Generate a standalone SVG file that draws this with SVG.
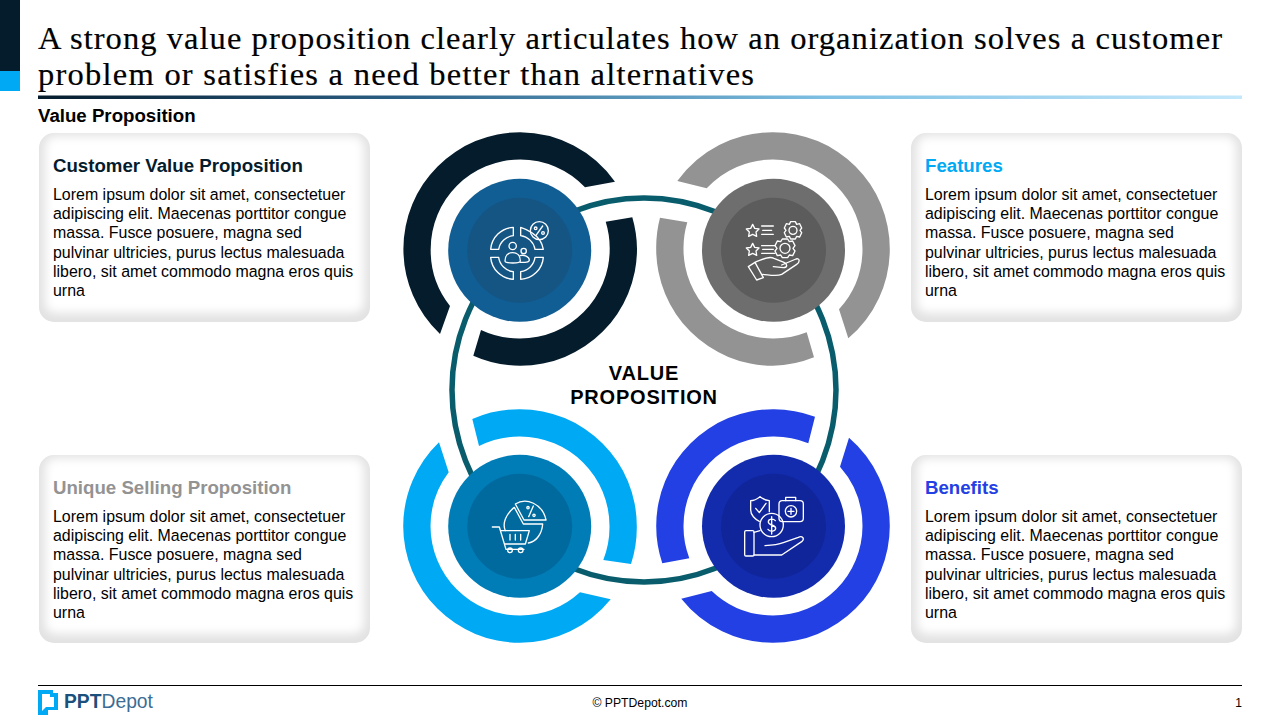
<svg xmlns="http://www.w3.org/2000/svg" width="1280" height="720" viewBox="0 0 1280 720">
<style>
text{font-family:"Liberation Sans",Arial,sans-serif;fill:#000}
.title{font-family:"Liberation Serif","Times New Roman",serif;font-size:32.5px;stroke:#000;stroke-width:.2px}
.sub{font-size:18.67px;font-weight:700}
.h{font-size:18.67px;font-weight:700}
.b{font-size:15.95px}
.c{font-size:20px;font-weight:700;letter-spacing:.8px;text-anchor:middle}
.card{fill:#e2e2e2}
.glow{fill:#fff;filter:url(#soft)}
.ic{fill:none;stroke:#fff;stroke-width:4;stroke-linejoin:round;stroke-linecap:round}
</style>
<defs>
<linearGradient id="rule" x1="0" x2="1" y1="0" y2="0"><stop offset="0" stop-color="#051C2C"/><stop offset=".3" stop-color="#2B5F85"/><stop offset=".65" stop-color="#7DBFE3"/><stop offset="1" stop-color="#C4E8FB"/></linearGradient>
<filter id="soft" x="-10%" y="-15%" width="120%" height="130%"><feGaussianBlur stdDeviation="5"/></filter>
<clipPath id="c1"><rect x="39" y="133" width="331" height="189" rx="15"/></clipPath>
<clipPath id="c2"><rect x="911" y="133" width="331" height="189" rx="15"/></clipPath>
<clipPath id="c3"><rect x="39" y="455" width="331" height="188" rx="15"/></clipPath>
<clipPath id="c4"><rect x="911" y="455" width="331" height="188" rx="15"/></clipPath>
</defs>
<rect width="1280" height="720" fill="#fff"/>
<g id="header">
<rect x="0" y="0" width="20" height="71" fill="#051C2C"/>
<rect x="0" y="71" width="20" height="20" fill="#00A9F4"/>
<text class="title" x="38" y="48.5" textLength="1184" lengthAdjust="spacing">A strong value proposition clearly articulates how an organization solves a customer</text>
<text class="title" x="38" y="84.5" textLength="716" lengthAdjust="spacing">problem or satisfies a need better than alternatives</text>
<rect x="38" y="95.5" width="1204" height="3.5" fill="url(#rule)"/>
<text class="sub" x="38" y="122">Value Proposition</text>
</g>
<g id="connectors">
<circle cx="644" cy="390" r="192" fill="none" stroke="#085C6B" stroke-width="5.5"/>
</g>
<g id="card-customer">
<rect class="card" x="39" y="133" width="331" height="189" rx="15"/>
<g clip-path="url(#c1)"><rect class="glow" x="45" y="136" width="319" height="177" rx="10"/></g>
<text class="h" x="53" y="172" style="fill:#051C2C">Customer Value Proposition</text>
<text class="b"><tspan x="53" y="200">Lorem ipsum dolor sit amet, consectetuer</tspan><tspan x="53" y="219.2">adipiscing elit. Maecenas porttitor congue</tspan><tspan x="53" y="238.4">massa. Fusce posuere, magna sed</tspan><tspan x="53" y="257.6">pulvinar ultricies, purus lectus malesuada</tspan><tspan x="53" y="276.8">libero, sit amet commodo magna eros quis</tspan><tspan x="53" y="296">urna</tspan></text>
</g>
<g id="card-features">
<rect class="card" x="911" y="133" width="331" height="189" rx="15"/>
<g clip-path="url(#c2)"><rect class="glow" x="917" y="136" width="319" height="177" rx="10"/></g>
<text class="h" x="925" y="172" style="fill:#00A9F4">Features</text>
<text class="b"><tspan x="925" y="200">Lorem ipsum dolor sit amet, consectetuer</tspan><tspan x="925" y="219.2">adipiscing elit. Maecenas porttitor congue</tspan><tspan x="925" y="238.4">massa. Fusce posuere, magna sed</tspan><tspan x="925" y="257.6">pulvinar ultricies, purus lectus malesuada</tspan><tspan x="925" y="276.8">libero, sit amet commodo magna eros quis</tspan><tspan x="925" y="296">urna</tspan></text>
</g>
<g id="card-usp">
<rect class="card" x="39" y="455" width="331" height="188" rx="15"/>
<g clip-path="url(#c3)"><rect class="glow" x="45" y="458" width="319" height="176" rx="10"/></g>
<text class="h" x="53" y="494" style="fill:#939393">Unique Selling Proposition</text>
<text class="b"><tspan x="53" y="522">Lorem ipsum dolor sit amet, consectetuer</tspan><tspan x="53" y="541.2">adipiscing elit. Maecenas porttitor congue</tspan><tspan x="53" y="560.4">massa. Fusce posuere, magna sed</tspan><tspan x="53" y="579.6">pulvinar ultricies, purus lectus malesuada</tspan><tspan x="53" y="598.8">libero, sit amet commodo magna eros quis</tspan><tspan x="53" y="618">urna</tspan></text>
</g>
<g id="card-benefits">
<rect class="card" x="911" y="455" width="331" height="188" rx="15"/>
<g clip-path="url(#c4)"><rect class="glow" x="917" y="458" width="319" height="176" rx="10"/></g>
<text class="h" x="925" y="494" style="fill:#2240E4">Benefits</text>
<text class="b"><tspan x="925" y="522">Lorem ipsum dolor sit amet, consectetuer</tspan><tspan x="925" y="541.2">adipiscing elit. Maecenas porttitor congue</tspan><tspan x="925" y="560.4">massa. Fusce posuere, magna sed</tspan><tspan x="925" y="579.6">pulvinar ultricies, purus lectus malesuada</tspan><tspan x="925" y="598.8">libero, sit amet commodo magna eros quis</tspan><tspan x="925" y="618">urna</tspan></text>
</g>
<g id="node-customer">
<path fill="#051C2C" d="M440,334 A116.8,116.8 0 0 1 403.4,249 A116.8,116.8 0 0 1 520.2,132.2 A116.8,116.8 0 0 1 615,181.7 L585,187.3 A89.5,89.5 0 0 0 520.2,159.5 A89.5,89.5 0 0 0 430.7,249 A89.5,89.5 0 0 0 450,306 Z"/>
<path fill="#051C2C" d="M632.3,217.3 A116.8,116.8 0 0 1 637,249 A116.8,116.8 0 0 1 520.2,365.8 A116.8,116.8 0 0 1 473.3,355.7 L481,330 A89.5,89.5 0 0 0 520.2,338.5 A89.5,89.5 0 0 0 609.7,249 A89.5,89.5 0 0 0 605.7,221.7 Z"/>
<circle cx="519.7" cy="250.3" r="71.5" fill="#115E94"/>
<circle cx="519.7" cy="250.3" r="52.5" fill="#155584"/>
<g transform="translate(400,125) scale(.33333)" class="ic">
<path d="M340,307 A72,72 0 0 0 272,373 H296 A50,50 0 0 1 340,332 Z"/>
<path d="M362,307 V332 A50,50 0 0 1 405,373 H430 A72,72 0 0 0 398,325 C385,315 372,310 362,307 Z"/>
<path d="M272,397 H296 A50,50 0 0 0 340,440 V463 A72,72 0 0 1 272,397 Z"/>
<path d="M430,397 H405 A50,50 0 0 1 362,440 V463 A72,72 0 0 0 430,397 Z"/>
<circle cx="418" cy="317" r="27"/>
<path d="M408,331 L428,303"/><circle cx="407" cy="310" r="4"/><circle cx="429" cy="324" r="4"/>
<circle cx="338" cy="363" r="11"/>
<path d="M315,408 C315,392 325,383 338,383 C351,383 361,392 361,408 C361,416 315,416 315,408 Z"/>
<circle cx="371" cy="378" r="8"/>
<path d="M360,392 C372,388 388,395 388,405 C388,412 375,413 361,412"/>
</g>
</g>
<g id="node-features">
<path fill="#939393" d="M677.3,181 A116.8,116.8 0 0 1 773,132.2 A116.8,116.8 0 0 1 889.8,249 A116.8,116.8 0 0 1 848.3,338.3 L839,309.3 A89.5,89.5 0 0 0 862.5,249 A89.5,89.5 0 0 0 773,159.5 A89.5,89.5 0 0 0 706.7,188.3 Z"/>
<path fill="#939393" d="M814,357.3 A116.8,116.8 0 0 1 773,365.8 A116.8,116.8 0 0 1 656.2,249 A116.8,116.8 0 0 1 660,217.7 L687.3,222.3 A89.5,89.5 0 0 0 683.5,249 A89.5,89.5 0 0 0 773,338.5 A89.5,89.5 0 0 0 806.7,332.3 Z"/>
<circle cx="773.5" cy="250.3" r="71.5" fill="#6E6E6E"/>
<circle cx="773.5" cy="250.3" r="52.5" fill="#5C5C5C"/>
<g transform="translate(640,125) scale(.33333)" class="ic">
<path d="M338,298 L344,310 L357,312 L348,321 L350,334 L338,328 L326,334 L328,321 L319,312 L332,310 Z"/>
<path d="M338,355 L344,367 L357,369 L348,378 L350,391 L338,385 L326,391 L328,378 L319,369 L332,367 Z"/>
<path d="M365,303 H400 M368,316 H395 M365,328 H400 M365,362 H405 M368,373 H400 M365,385 H405"/>
<path d="M452,290 H466 L470,298 L479,296 L485,309 L480,316 L485,323 L479,336 L470,334 L466,342 H452 L448,334 L439,336 L433,323 L438,316 L433,309 L439,296 L448,298 Z"/>
<circle cx="459" cy="316" r="12"/>
<path d="M427,342 H443 L448,350 L458,348 L465,362 L459,370 L465,378 L458,392 L448,390 L443,398 H427 L422,390 L412,392 L405,378 L411,370 L405,362 L412,348 L422,350 Z"/>
<circle cx="435" cy="370" r="15"/>
<path d="M325,425 L345,412 L370,458 L350,465 Z"/>
<path d="M345,412 C365,405 385,392 402,400 L432,412 C443,417 443,428 430,428 L400,425"/>
<path d="M425,420 L468,402 C480,398 480,412 470,418 L425,448 C410,455 390,450 368,448"/>
</g>
</g>
<g id="node-usp">
<path fill="#00A9F4" d="M472.3,419 A116.8,116.8 0 0 1 520,409.2 A116.8,116.8 0 0 1 636.8,526 A116.8,116.8 0 0 1 631,564 L603.3,560 A89.5,89.5 0 0 0 609.5,526 A89.5,89.5 0 0 0 520,436.5 A89.5,89.5 0 0 0 479,446 Z"/>
<path fill="#00A9F4" d="M610.7,599.3 A116.8,116.8 0 0 1 520,642.8 A116.8,116.8 0 0 1 403.2,526 A116.8,116.8 0 0 1 439,442.3 L448.7,472.3 A89.5,89.5 0 0 0 430.5,526 A89.5,89.5 0 0 0 520,615.5 A89.5,89.5 0 0 0 580,592.3 Z"/>
<circle cx="519.7" cy="526.3" r="71.5" fill="#007DB6"/>
<circle cx="519.7" cy="526.3" r="52.5" fill="#006A9E"/>
<g transform="translate(400,400) scale(.33333)" class="ic">
<path d="M346,312 C378,292 428,310 438,360 L372,360 Z"/>
<path d="M386,350 L400,318"/><circle cx="384" cy="323" r="3.5"/><circle cx="402" cy="346" r="3.5"/>
<path d="M343,322 C318,342 306,370 316,392 M343,322 L370,372 H428 C426,400 410,425 385,429"/>
<path d="M277,381 H298 L318,448 H372"/>
<path d="M303,392 H388 L376,432 H314"/>
<path d="M330,403 V420 M346,403 V420 M362,403 V420"/>
<circle cx="330" cy="451" r="7"/><circle cx="362" cy="451" r="7"/>
</g>
</g>
<g id="node-benefits">
<path fill="#2240E4" d="M662.3,563.3 A116.8,116.8 0 0 1 656.2,526 A116.8,116.8 0 0 1 773,409.2 A116.8,116.8 0 0 1 815,416.7 L808.3,443.3 A89.5,89.5 0 0 0 773,436.5 A89.5,89.5 0 0 0 683.5,526 A89.5,89.5 0 0 0 689.3,558.3 Z"/>
<path fill="#2240E4" d="M849,437.7 A116.8,116.8 0 0 1 889.8,526 A116.8,116.8 0 0 1 773,642.8 A116.8,116.8 0 0 1 681.3,598.7 L711.7,591 A89.5,89.5 0 0 0 773,615.5 A89.5,89.5 0 0 0 862.5,526 A89.5,89.5 0 0 0 840,466.7 Z"/>
<circle cx="773.5" cy="526.3" r="71.5" fill="#132CAE"/>
<circle cx="773.5" cy="526.3" r="52.5" fill="#11259A"/>
<g transform="translate(640,400) scale(.33333)" class="ic">
<path d="M360,290 C350,298 342,302 332,302 V330 C332,345 345,358 358,364 M360,290 C370,298 378,302 388,302 V335"/>
<path d="M347,325 L358,338 L378,310"/>
<rect x="417" y="302" width="73" height="63" rx="10"/>
<path d="M437,302 V292 H467 V302"/>
<circle cx="453" cy="334" r="17"/><path d="M453,325 V343 M444,334 H462"/>
<circle cx="395" cy="375" r="35"/>
<path d="M406,362 C400,355 385,356 385,366 C385,377 407,373 407,385 C407,395 390,396 384,388 M395,350 V402"/>
<rect x="314" y="392" width="28" height="76" rx="4"/>
<path d="M342,397 L360,392 M342,465 H425 L485,425 C496,415 486,406 475,412 L430,428 C420,432 395,436 375,437"/>
</g>
</g>
<g id="center-label">
<text class="c" x="644" y="380">VALUE</text>
<text class="c" x="644" y="404">PROPOSITION</text>
</g>
<g id="footer">
<rect x="38" y="685" width="1204" height="1" fill="#000"/>
<path fill="#00A9F4" fill-rule="evenodd" d="M38,690 H53 V693 H58 V710 H48 V715 H38 Z M42,694 V711 L46,707 H54 V697 H50 V694 Z"/>
<text x="64" y="708" style="font-size:19.3px;font-weight:700;fill:#1B4F7C">PPT<tspan style="font-weight:400;fill:#3D6D94">Depot</tspan></text>
<text x="640" y="707" text-anchor="middle" style="font-size:12.2px">© PPTDepot.com</text>
<text x="1238.5" y="707" text-anchor="middle" style="font-size:12px">1</text>
</g>
</svg>
